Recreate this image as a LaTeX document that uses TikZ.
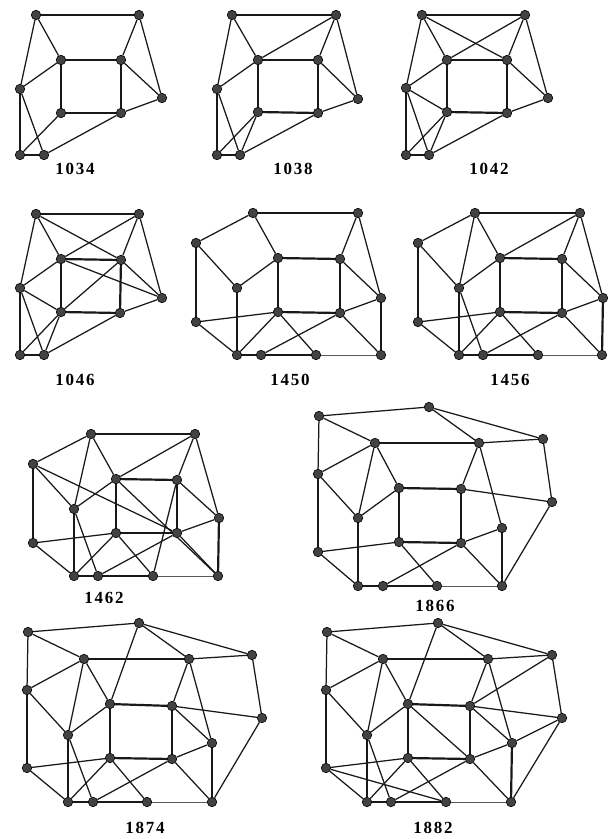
\documentclass[tikz,border=0pt]{standalone}
\usepackage{fontspec}
\setmainfont{Liberation Serif}
\newfontfamily\labfont[LetterSpace=10]{Liberation Serif}
\definecolor{nodegray}{RGB}{66,66,66}
\definecolor{edgegray}{RGB}{90,90,90}
\pgfdeclarelayer{bg}
\pgfsetlayers{bg,main}
\tikzset{
  v/.style={circle,fill=nodegray,draw=black,line width=0.6pt,inner sep=0pt,minimum size=9.5pt},
  tn/.style={line width=1.25pt,black!90},
  tk/.style={line width=2.2pt,black!90},
  gl/.style={line width=1pt,edgegray},
  lab/.style={font=\labfont\bfseries\fontsize{17}{19}\selectfont,inner sep=0pt}
}
\begin{document}
\begin{tikzpicture}[x=1pt,y=-1pt]
\useasboundingbox (0,0) rectangle (608,839);
% ---------- 1034 ----------
\foreach \n/\x/\y in {A/36/15,B/139/15,C/61/60,D/121/60,E/61/113,F/121/113,G/20/89,H/162/98,I/20/155,J/44/155}
  \node[v] (a\n) at (\x,\y) {};
% ---------- 1038 ----------
\foreach \n/\x/\y in {A/232/15,B/336/15,C/258/60,D/318/60,E/258/112,F/318/113,G/217/89,H/358/99,I/217/155,J/240/155}
  \node[v] (b\n) at (\x,\y) {};
% ---------- 1042 ----------
\foreach \n/\x/\y in {A/422/15,B/525/15,C/447/60,D/507/60,E/447/112,F/507/113,G/406/88,H/548/98,I/406/155,J/429/155}
  \node[v] (c\n) at (\x,\y) {};
% ---------- 1046 ----------
\foreach \n/\x/\y in {A/36/214,B/139/214,C/61/259,D/121/260,E/61/312,F/120/313,G/20/288,H/162/298,I/20/355,J/44/355}
  \node[v] (d\n) at (\x,\y) {};
% ---------- 1450 ----------
\foreach \n/\x/\y in {A/253/213,B/358/213,P/196/243,C/278/258,D/340/259,Q/237/288,H/381/298,E/278/312,F/340/313,G/196/322,I/237/355,J/261/355,K/316/355,L/381/355}
  \node[v] (e\n) at (\x,\y) {};
% ---------- 1456 ----------
\foreach \n/\x/\y in {A/475/213,B/580/213,P/418/243,C/500/258,D/562/259,Q/459/288,H/603/298,E/500/312,F/562/313,G/418/322,I/459/355,J/483/355,K/538/355,L/602/355}
  \node[v] (f\n) at (\x,\y) {};
% ---------- 1462 ----------
\foreach \n/\x/\y in {A/91/434,B/195/434,P/33/464,C/116/479,D/177/480,Q/74/509,H/219/518,E/116/533,F/177/533,G/33/543,I/74/576,J/98/576,K/153/576,L/218/576}
  \node[v] (g\n) at (\x,\y) {};
% ---------- 1866 ----------
\foreach \n/\x/\y in {T/429/407,O/319/416,R/543/439,A/375/443,B/479/443,P/318/474,C/399/488,D/461/489,S/552/502,Q/358/518,M/502/528,E/399/542,F/461/543,G/318/552,I/358/586,J/383/586,K/437/586,L/502/586}
  \node[v] (h\n) at (\x,\y) {};
% ---------- 1874 ----------
\foreach \n/\x/\y in {T/139/623,O/28/632,R/252/655,A/84/659,B/189/659,P/27/690,C/110/704,D/172/706,S/262/718,Q/68/735,M/212/743,E/110/758,F/172/759,G/27/768,I/68/802,J/93/802,K/147/802,L/212/802}
  \node[v] (i\n) at (\x,\y) {};
% ---------- 1882 ----------
\foreach \n/\x/\y in {T/438/623,O/327/632,R/552/655,A/383/659,B/488/659,P/326/690,C/408/704,D/470/706,S/562/718,Q/367/735,M/512/743,E/408/758,F/470/759,G/326/768,I/367/802,J/391/802,K/446/802,L/511/802}
  \node[v] (j\n) at (\x,\y) {};

\begin{pgfonlayer}{bg}
% 1034
\foreach \p/\q in {A/B,C/D,C/E,D/F,E/F,G/I,I/J} \draw[tk] (a\p) -- (a\q);
\foreach \p/\q in {A/C,A/G,B/D,B/H,C/G,D/H,H/F,F/J,G/J,I/E} \draw[tn] (a\p) -- (a\q);
% 1038
\foreach \p/\q in {A/B,C/D,C/E,D/F,E/F,G/I,I/J} \draw[tk] (b\p) -- (b\q);
\foreach \p/\q in {A/C,A/G,B/C,B/D,B/H,C/G,D/H,H/F,F/J,G/J,I/E,E/J} \draw[tn] (b\p) -- (b\q);
% 1042
\foreach \p/\q in {A/B,C/D,C/E,D/F,E/F,G/I,I/J} \draw[tk] (c\p) -- (c\q);
\foreach \p/\q in {A/C,A/G,A/D,B/C,B/D,B/H,C/G,G/E,D/H,H/F,F/J,G/J,I/E,E/J} \draw[tn] (c\p) -- (c\q);
% 1046
\foreach \p/\q in {A/B,C/D,C/E,D/F,E/F,G/I,I/J} \draw[tk] (d\p) -- (d\q);
\foreach \p/\q in {A/C,A/D,A/G,B/C,B/D,B/H,C/G,C/H,D/H,D/E,E/G,E/I,E/J,F/H,F/J,G/J} \draw[tn] (d\p) -- (d\q);
% 1450
\foreach \p/\q in {A/B,C/D,C/E,D/F,E/F,P/G,Q/I,H/L,I/J,J/K} \draw[tk] (e\p) -- (e\q);
\foreach \p/\q in {A/P,A/C,B/D,B/H,P/Q,Q/C,D/H,F/H,J/F,G/E,G/I,E/I,E/K,F/L} \draw[tn] (e\p) -- (e\q);
\draw[gl] (eK) -- (eL);
% 1456
\foreach \p/\q in {A/B,C/D,C/E,D/F,E/F,P/G,Q/I,H/L,I/J,J/K} \draw[tk] (f\p) -- (f\q);
\foreach \p/\q in {A/P,A/C,A/Q,B/C,B/D,B/H,P/Q,Q/C,Q/J,D/H,F/H,J/F,G/E,G/I,E/I,E/K,F/L} \draw[tn] (f\p) -- (f\q);
\draw[gl] (fK) -- (fL);
% 1462
\foreach \p/\q in {A/B,C/D,C/E,D/F,E/F,P/G,Q/I,H/L,I/J,J/K} \draw[tk] (g\p) -- (g\q);
\foreach \p/\q in {A/P,A/C,A/Q,B/C,B/D,B/H,P/Q,P/F,Q/C,Q/J,D/H,D/K,F/H,J/F,C/L,F/L,G/E,G/I,E/I,E/K} \draw[tn] (g\p) -- (g\q);
\draw[gl] (gK) -- (gL);
% 1866
\foreach \p/\q in {A/B,C/D,C/E,D/F,E/F,P/G,Q/I,M/L,I/J,J/K} \draw[tk] (h\p) -- (h\q);
\foreach \p/\q in {O/T,T/R,T/B,O/A,O/P,A/P,A/Q,A/C,B/R,B/D,B/M,R/S,D/S,P/Q,Q/C,G/E,G/I,E/K,J/F,F/M,F/L,S/L} \draw[tn] (h\p) -- (h\q);
\draw[gl] (hK) -- (hL);
% 1874
\foreach \p/\q in {A/B,C/D,C/E,D/F,E/F,P/G,Q/I,M/L,I/J,J/K} \draw[tk] (i\p) -- (i\q);
\foreach \p/\q in {O/T,T/R,T/B,T/C,O/A,O/P,A/P,A/Q,A/C,B/R,B/D,B/M,R/S,D/S,D/M,P/Q,Q/C,Q/J,G/E,G/I,E/I,E/K,J/F,F/M,F/L,S/L} \draw[tn] (i\p) -- (i\q);
\draw[gl] (iK) -- (iL);
% 1882
\foreach \p/\q in {A/B,C/D,C/E,D/F,E/F,P/G,Q/I,M/L,I/J,J/K} \draw[tk] (j\p) -- (j\q);
\foreach \p/\q in {O/T,T/R,T/B,T/C,O/A,O/P,A/P,A/Q,A/C,B/R,B/D,B/M,R/D,R/S,D/S,D/M,S/M,S/L,P/Q,Q/C,Q/J,C/F,G/E,G/I,G/K,E/I,E/K,J/F,F/M,F/L} \draw[tn] (j\p) -- (j\q);
\draw[gl] (jK) -- (jL);
\end{pgfonlayer}

% labels
\node[lab] (l1) at (75,169) {1034};
\node[lab] (l2) at (293,169) {1038};
\node[lab] (l3) at (489,169) {1042};
\node[lab] (l4) at (75,380) {1046};
\node[lab] (l5) at (290,380) {1450};
\node[lab] (l6) at (510,380) {1456};
\node[lab] (l7) at (104,598) {1462};
\node[lab] (l8) at (435,606) {1866};
\node[lab] (l9) at (145,828) {1874};
\node[lab] (l10) at (433,828) {1882};
\end{tikzpicture}
\end{document}
